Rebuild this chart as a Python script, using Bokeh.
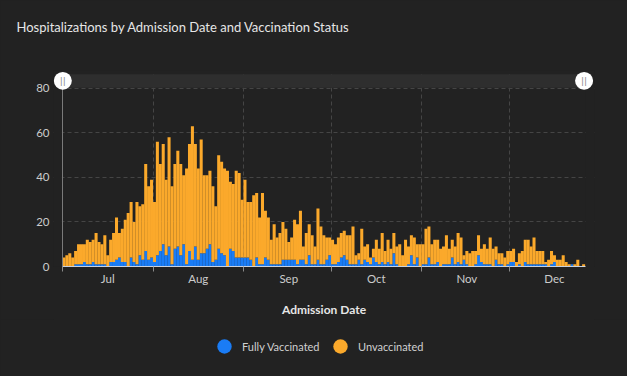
import pandas as pd
from bokeh.plotting import figure
from bokeh.layouts import column
from bokeh.models import (ColumnDataSource, FixedTicker, DatetimeTickFormatter, Legend,
                          LegendItem, BoxAnnotation, Label, Range1d, Title, InlineStyleSheet)
from bokeh.embed import file_html
from bokeh.resources import INLINE

title_text = "Hospitalizations by Admission Date and Vaccination Status"
x_title = "Admission Date"
first_day = "2021-07-01"
series_names = ["Fully Vaccinated", "Unvaccinated"]
month_labels = ["Jul", "Aug", "Sep", "Oct", "Nov", "Dec"]
y_ticks = [0, 20, 40, 60, 80]

fully_vaccinated = [
    0, 0, 0, 0, 1, 1, 1, 2, 1, 1, 2, 1, 1, 1, 1, 0, 2, 2, 3, 4, 2, 2, 0, 4, 2, 1, 5, 3, 7, 3, 4,
    2, 5, 7, 10, 5, 9, 1, 8, 9, 5, 10, 1, 7, 3, 9, 3, 6, 6, 8, 10, 2, 3, 8, 6, 5, 0, 8, 7, 4, 4, 4,
    4, 4, 3, 0, 4, 1, 1, 4, 3, 1, 1, 1, 1, 3, 3, 3, 3, 3, 1, 3, 3, 1, 5, 1, 1, 3, 1, 1, 3, 5,
    1, 1, 2, 4, 5, 3, 1, 1, 1, 3, 1, 3, 2, 1, 4, 2, 1, 2, 1, 2, 1, 6, 1, 0, 0, 0, 1, 5, 1, 4, 0,
    1, 1, 4, 1, 1, 2, 0, 1, 1, 1, 4, 1, 2, 1, 3, 1, 0, 0, 1, 5, 2, 1, 1, 1, 0, 3, 1, 1, 0, 1,
    2, 2, 0, 1, 0, 2, 1, 1, 1, 1, 1, 1, 1, 0, 1, 2, 0, 0, 0, 0, 0, 1, 0, 0, 0, 0,
]
unvaccinated = [
    4, 5, 6, 4, 6, 9, 9, 8, 11, 10, 10, 14, 10, 9, 13, 5, 10, 13, 19, 11, 15, 19, 24, 25, 18, 28, 22, 25, 39, 33, 35,
    27, 51, 39, 45, 34, 49, 35, 38, 43, 41, 31, 43, 48, 60, 46, 41, 51, 35, 33, 33, 34, 24, 42, 41, 39, 43, 30, 30, 39, 38, 26,
    35, 25, 26, 32, 29, 21, 32, 21, 19, 11, 18, 12, 14, 17, 14, 8, 10, 18, 18, 22, 6, 14, 14, 13, 8, 23, 17, 13, 10, 8,
    11, 9, 11, 11, 11, 11, 13, 17, 4, 3, 16, 6, 8, 3, 4, 10, 7, 13, 6, 10, 7, 9, 8, 10, 5, 12, 8, 9, 12, 6, 10,
    9, 16, 14, 9, 11, 10, 8, 8, 13, 7, 8, 8, 13, 12, 2, 6, 6, 7, 6, 9, 6, 9, 7, 12, 8, 6, 5, 5, 4, 6,
    5, 6, 2, 5, 7, 10, 11, 8, 12, 6, 6, 6, 1, 3, 6, 3, 3, 3, 5, 2, 1, 0, 1, 3, 0, 1,
]

BG = "#222222"
BLUE = "#1a7cf5"
ORANGE = "#fba92b"
FONT = "Lato"
dark_host = InlineStyleSheet(css=":host { background-color: #222222; }")

dates = pd.date_range(first_day, periods=len(fully_vaccinated), freq="D")
x0_ms = dates[0].value // 10**6
x1_ms = (dates[-1] + pd.Timedelta(days=1)).value // 10**6

# layout (pixels)
W = 627
H_MAIN, H_LEG = 319, 57
FRAME_LEFT, FRAME_RIGHT = 53, 594
FRAME_TOP, FRAME_H = 70, 198
PAD_PX = 9                      # room for the range handles beyond the data
Y_END = 88
data_w_px = 522.6
ms_per_px = (x1_ms - x0_ms) / data_w_px
units_per_px = Y_END / FRAME_H
xr_start = x0_ms - PAD_PX * ms_per_px
xr_end = xr_start + (FRAME_RIGHT - FRAME_LEFT) * ms_per_px

source = ColumnDataSource(dict(
    x=dates + pd.Timedelta(hours=12),
    fully=fully_vaccinated,
    unvac=unvaccinated,
))

p = figure(width=W, height=H_MAIN, x_axis_type="datetime", title=None,
           x_range=Range1d(xr_start, xr_end), y_range=Range1d(0, Y_END),
           min_border_left=FRAME_LEFT, min_border_right=W - FRAME_RIGHT,
           min_border_top=FRAME_TOP, min_border_bottom=H_MAIN - FRAME_TOP - FRAME_H,
           output_backend="svg", toolbar_location=None,
           background_fill_color=BG, border_fill_color=BG, outline_line_color=None)
p.stylesheets = [dark_host]

month_starts = pd.date_range(first_day, periods=len(month_labels), freq="MS")
start_ms = [t.value // 10**6 for t in month_starts]
mid_ms = [(t + pd.Timedelta(hours=372)).value // 10**6 for t in month_starts]
p.xgrid.ticker = FixedTicker(ticks=start_ms)
p.xgrid.grid_line_color = "#454545"
p.xgrid.grid_line_dash = "4 3"
p.ygrid.grid_line_color = "#454545"
p.ygrid.grid_line_dash = "4 3"

bars = p.vbar_stack(["fully", "unvac"], x="x", width=86400000 * 1.04, source=source,
                    color=[BLUE, ORANGE], line_color=None)

# cover the padding strips so grid lines stop at the data edges
p.add_layout(BoxAnnotation(left=xr_start, right=x0_ms - 0.6 * ms_per_px, bottom=0, top=Y_END,
                           fill_color=BG, fill_alpha=1, line_alpha=0))
p.add_layout(BoxAnnotation(left=x1_ms + 0.5 * ms_per_px, right=xr_end, bottom=0.5, top=Y_END,
                           fill_color=BG, fill_alpha=1, line_alpha=0))

# y axis line drawn at the first day
p.segment(x0=[x0_ms], y0=[y_ticks[0]], x1=[x0_ms], y1=[y_ticks[-1]], line_color="#7a7a7a", line_width=1)

# x axis
p.xaxis.ticker = FixedTicker(ticks=mid_ms, minor_ticks=start_ms)
p.xaxis.formatter = DatetimeTickFormatter(days="%b", months="%b", years="%b", hours="%b",
                                          hourmin="%b", minutes="%b", minsec="%b",
                                          seconds="%b", milliseconds="%b", microseconds="%b")
p.xaxis.major_label_overrides = {m: lab for m, lab in zip(mid_ms, month_labels)}
p.xaxis.bounds = (x0_ms, x1_ms)
p.xaxis.major_tick_out = 0
p.xaxis.major_tick_in = 0
p.xaxis.minor_tick_out = 5
p.xaxis.minor_tick_in = 0
p.xaxis.minor_tick_line_color = "#8a8a8a"
p.xaxis.axis_line_color = "#c9d1de"
p.xaxis.major_label_standoff = 0
p.xaxis.major_label_text_color = "#cccccc"
p.xaxis.major_label_text_font = FONT
p.xaxis.major_label_text_font_size = "11.5px"
p.xaxis.axis_label = x_title
p.xaxis.axis_label_text_font = FONT
p.xaxis.axis_label_text_font_style = "bold"
p.xaxis.axis_label_text_font_size = "12px"
p.xaxis.axis_label_text_color = "#e6e6e6"
p.xaxis.axis_label_standoff = 14

# y axis
p.yaxis.ticker = FixedTicker(ticks=y_ticks)
p.yaxis.axis_line_color = None
p.yaxis.major_tick_out = 0
p.yaxis.major_tick_in = 0
p.yaxis.minor_tick_out = 0
p.yaxis.minor_tick_in = 0
p.yaxis.major_label_standoff = 4
p.yaxis.major_label_text_color = "#cccccc"
p.yaxis.major_label_text_font = FONT
p.yaxis.major_label_text_font_size = "11.5px"

# range-selector strip above the plot
band_top = y_ticks[-1] + 14.3 * units_per_px
p.add_layout(BoxAnnotation(left=xr_start, right=xr_end, bottom=band_top, top=Y_END,
                           fill_color=BG, fill_alpha=1, line_alpha=0))
p.add_layout(BoxAnnotation(left=x0_ms, right=x1_ms - 1 * ms_per_px, bottom=y_ticks[-1] + 0.3, top=band_top,
                           fill_color="#2e2e2e", fill_alpha=1, line_alpha=0))
handle_y = y_ticks[-1] + 7.6 * units_per_px
r_px = 9
for hx in (x0_ms + 0.3 * ms_per_px, x1_ms - 1 * ms_per_px):
    p.add_layout(BoxAnnotation(left=hx - r_px * ms_per_px, right=hx + r_px * ms_per_px,
                               bottom=handle_y - r_px * units_per_px, top=handle_y + r_px * units_per_px,
                               fill_color="white", fill_alpha=1, line_alpha=0, border_radius=r_px))
    p.add_layout(Label(x=hx, y=handle_y, text="||", text_align="center", text_baseline="middle",
                       text_color="#8a8a8a", text_font_size="9px", text_font="DejaVu Sans"))

# title: a blank spacer next to the frame, then the real title outside it
p.add_layout(Title(text=" ", text_font_size="13px", text_font=FONT, standoff=18), "above")
p.add_layout(Title(text=title_text, align="left", offset=16 - FRAME_LEFT, standoff=0,
                   text_font=FONT, text_font_size="13px", text_font_style="normal",
                   text_color="#e6e6e6"), "above")

# legend strip underneath, with round markers
lg = figure(width=W, height=H_LEG, x_range=Range1d(0, 1), y_range=Range1d(0, 1),
            min_border=0, output_backend="svg", toolbar_location=None,
            background_fill_color=BG, border_fill_color=BG, outline_line_color=None)
lg.stylesheets = [dark_host]
lg.axis.visible = False
lg.grid.visible = False
nan = float("nan")
dot_b = lg.scatter(x=[nan], y=[nan], marker="circle", fill_color=BLUE, line_color=None)
dot_o = lg.scatter(x=[nan], y=[nan], marker="circle", fill_color=ORANGE, line_color=None)
legend = Legend(items=[LegendItem(label=series_names[0], renderers=[dot_b]),
                       LegendItem(label=series_names[1], renderers=[dot_o])],
                orientation="horizontal", location=(206 - FRAME_LEFT, 12),
                glyph_width=36, glyph_height=36, label_standoff=0, spacing=0, label_width=80,
                padding=0, margin=0, background_fill_alpha=0, border_line_color=None,
                label_text_color="#d0d0d0", label_text_font=FONT, label_text_font_size="11px")
lg.add_layout(legend, "center")

page = column(p, lg, spacing=0)
page.stylesheets = [dark_host]
open("out.html", "w").write(file_html(page, INLINE))
